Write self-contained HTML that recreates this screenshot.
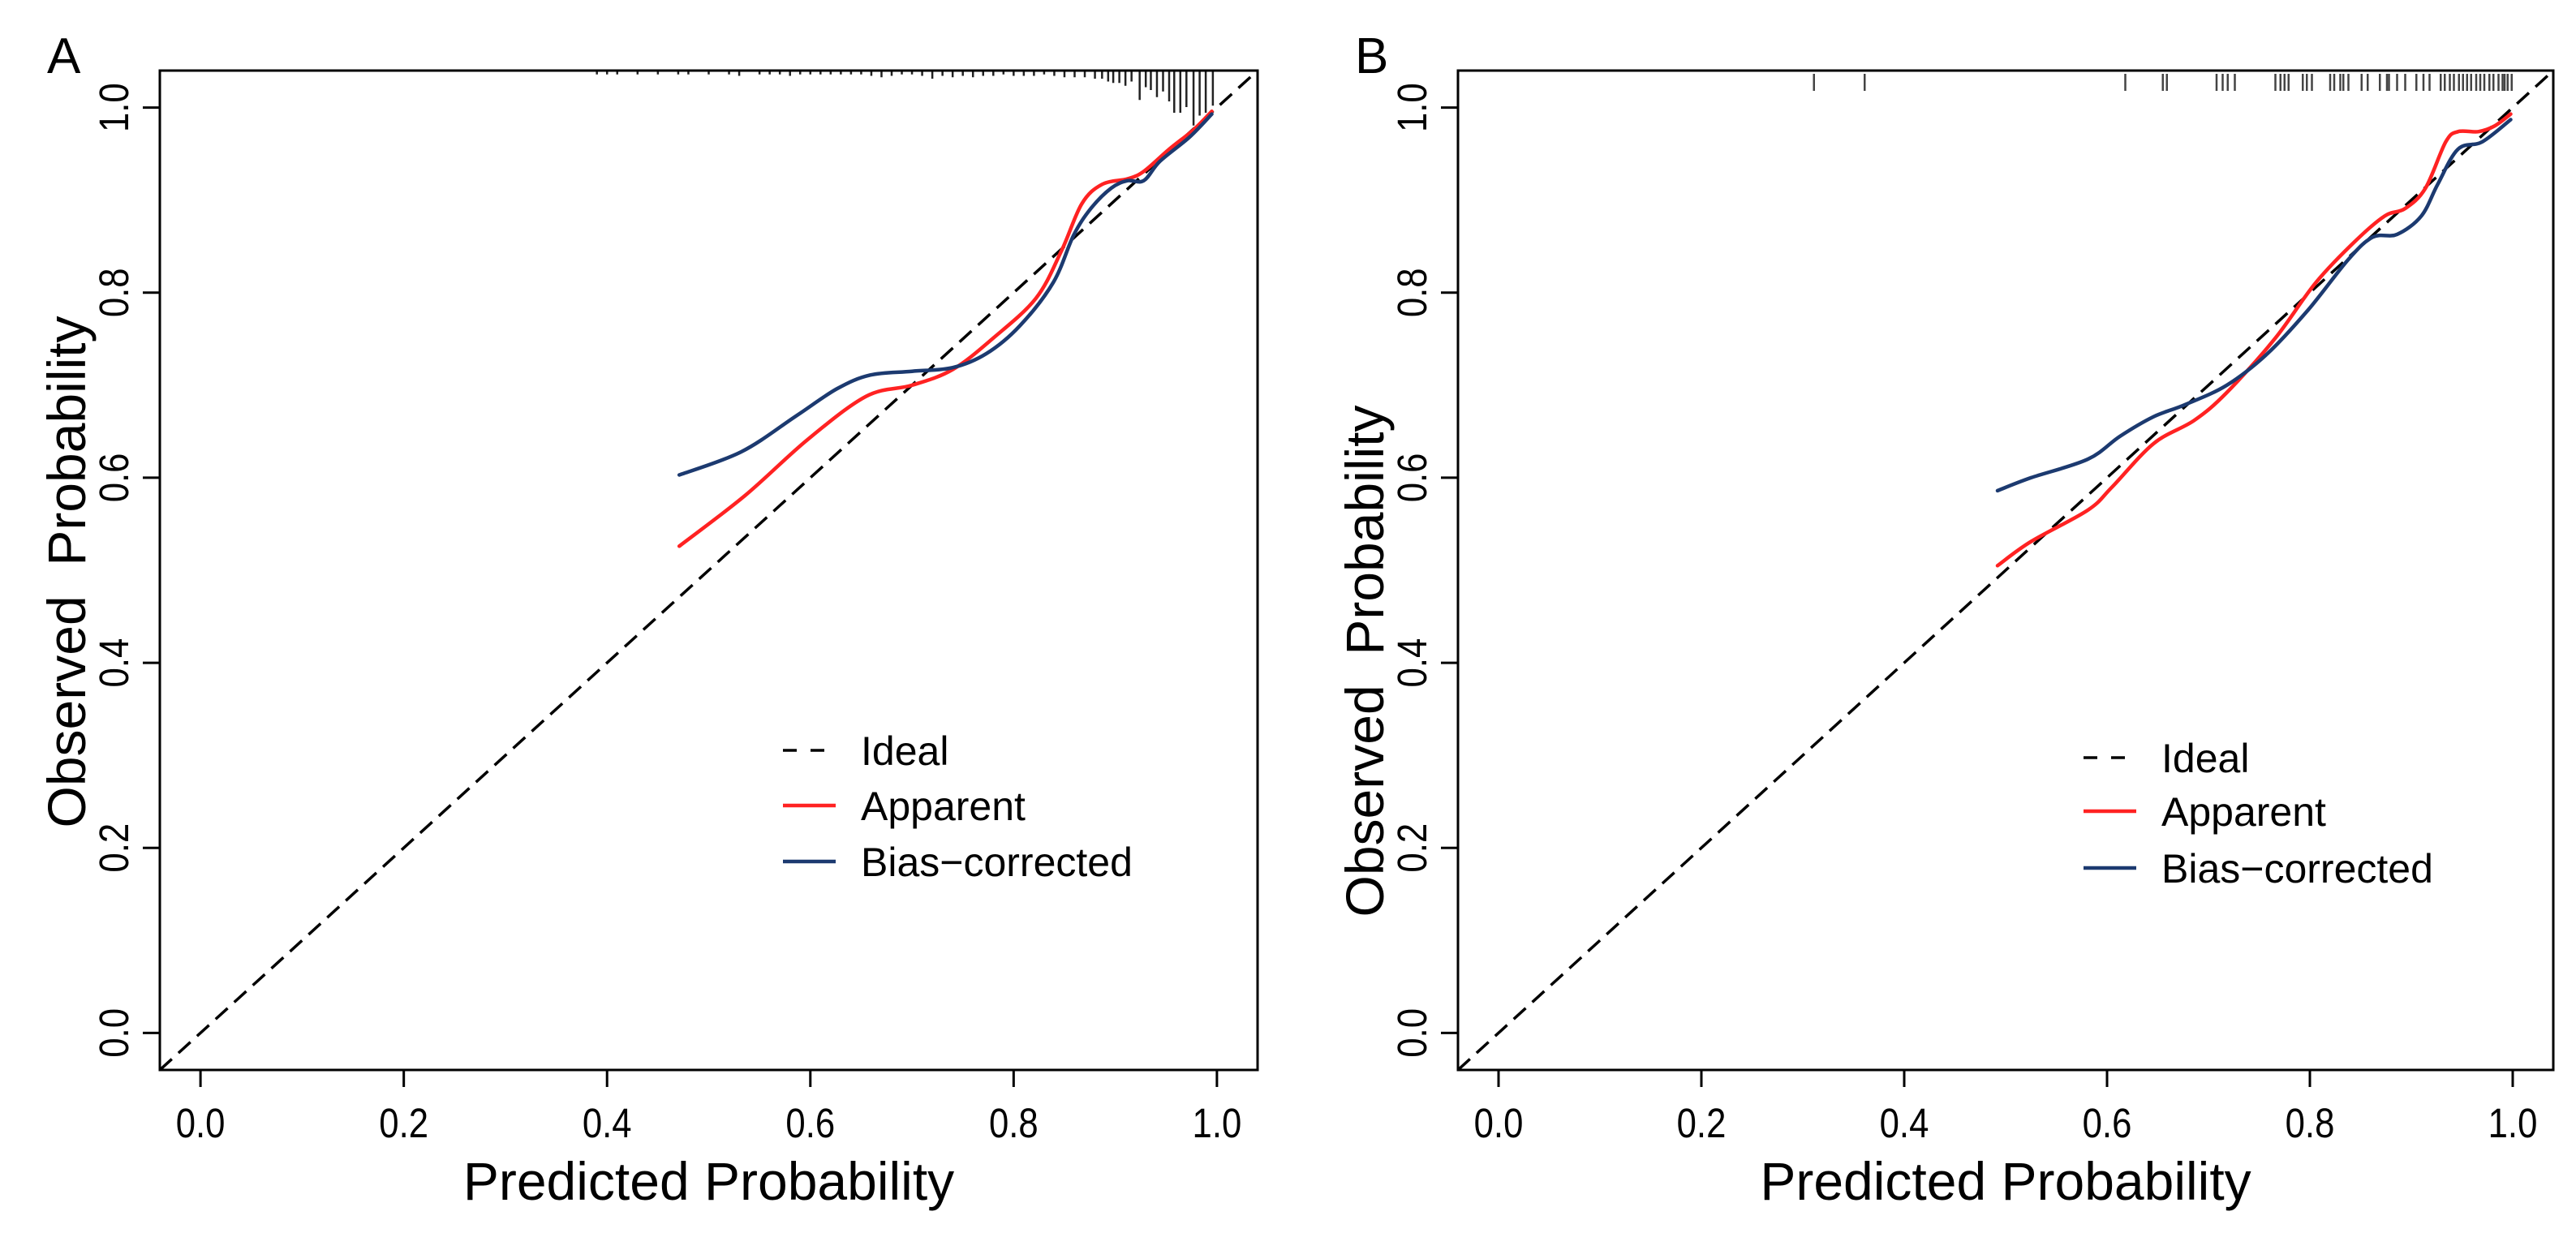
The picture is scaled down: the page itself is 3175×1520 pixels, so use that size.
<!DOCTYPE html>
<html><head><meta charset="utf-8"><style>
html,body{margin:0;padding:0;background:#fff;}
svg{display:block;font-family:"Liberation Sans",Arial,sans-serif;}
</style></head><body>
<svg id="fig" width="3175" height="1520" viewBox="0 0 3175 1520" xmlns="http://www.w3.org/2000/svg"></svg>
<script>
// ---- data: panel A ----
const appAx = [0.471,0.536,0.597,0.655,0.700,0.740,0.780,0.822,0.847,0.867,0.887,0.912,0.928,0.953,0.977,0.995];
const appAy = [0.526,0.581,0.641,0.688,0.700,0.717,0.751,0.794,0.845,0.896,0.917,0.923,0.931,0.955,0.976,0.996];
const biaAx = [0.471,0.532,0.585,0.626,0.659,0.700,0.740,0.773,0.806,0.839,0.859,0.876,0.896,0.912,0.928,0.944,0.973,0.995];
const biaAy = [0.603,0.628,0.666,0.696,0.711,0.715,0.719,0.734,0.764,0.811,0.862,0.891,0.913,0.921,0.921,0.942,0.968,0.993];
const rugAx = [0.39,0.40,0.41,0.43,0.45,0.47,0.48,0.50,0.52,0.53,0.55,0.56,0.57,0.58,0.59,0.60,0.61,0.62,0.63,0.64,0.65,0.66,0.67,0.68,0.69,0.70,0.71,0.72,0.73,0.74,0.75,0.76,0.77,0.78,0.79,0.80,0.81,0.82,0.83,0.84,0.85,0.86,0.87,0.88,0.887,0.893,0.898,0.904,0.910,0.916,0.924,0.930,0.935,0.941,0.947,0.953,0.958,0.964,0.970,0.977,0.983,0.989,0.996];
const rugAc = [1,1,1,1,1,1,1,1,1,2,1,1,1,2,1,1,1,1,1,1,1,2,3,2,1,1,2,4,2,3,2,3,2,2,1,2,2,2,1,2,3,3,3,4,4,6,7,7,9,6,19,10,12,17,13,20,28,28,24,37,30,28,23];
// ---- data: panel B ----
const appBx = [0.492,0.525,0.581,0.605,0.646,0.686,0.718,0.766,0.806,0.846,0.874,0.894,0.914,0.934,0.946,0.966,0.982,0.998];
const appBy = [0.505,0.531,0.565,0.590,0.637,0.662,0.692,0.751,0.811,0.857,0.883,0.891,0.913,0.963,0.974,0.974,0.980,0.993];
const biaBx = [0.492,0.525,0.581,0.613,0.646,0.677,0.718,0.758,0.798,0.838,0.862,0.886,0.910,0.926,0.946,0.970,0.998];
const biaBy = [0.586,0.600,0.620,0.645,0.666,0.679,0.700,0.734,0.781,0.836,0.860,0.863,0.883,0.917,0.955,0.963,0.987];
const rugBx = [0.311,0.361,0.618,0.655,0.659,0.708,0.714,0.719,0.726,0.766,0.771,0.775,0.779,0.793,0.797,0.802,0.820,0.824,0.830,0.833,0.838,0.851,0.857,0.869,0.876,0.878,0.886,0.894,0.905,0.912,0.918,0.929,0.933,0.938,0.942,0.947,0.951,0.955,0.959,0.964,0.968,0.972,0.977,0.981,0.986,0.990,0.992,0.995,0.999];
const tickVals = [0.0,0.2,0.4,0.6,0.8,1.0];
const tickLabels = ["0.0","0.2","0.4","0.6","0.8","1.0"];
const legendLabels = ["Ideal","Apparent","Bias\u2212corrected"];

const NS = "http://www.w3.org/2000/svg";
const svg = document.getElementById('fig');
function mk(tag, attrs, parent){
  const e = document.createElementNS(NS, tag);
  for (const k in attrs) e.setAttribute(k, attrs[k]);
  (parent||svg).appendChild(e);
  return e;
}
function smoothPath(pts){
  let d='M'+pts[0][0].toFixed(1)+' '+pts[0][1].toFixed(1);
  for(let i=0;i<pts.length-1;i++){
    const p0=pts[i-1]||pts[i], p1=pts[i], p2=pts[i+1], p3=pts[i+2]||p2;
    const c1=[p1[0]+(p2[0]-p0[0])/6, p1[1]+(p2[1]-p0[1])/6];
    const c2=[p2[0]-(p3[0]-p1[0])/6, p2[1]-(p3[1]-p1[1])/6];
    d+=' C'+c1[0].toFixed(1)+' '+c1[1].toFixed(1)+' '+c2[0].toFixed(1)+' '+c2[1].toFixed(1)+' '+p2[0].toFixed(1)+' '+p2[1].toFixed(1);
  }
  return d;
}
function panel(P){
  const g = mk('g',{});
  
  
  const L=P.left, R=P.right, T=87, B=1319;
  const ux=(R-L)/1.08, uy=(B-T)/1.08;
  const sx=v=>L+(v+0.04)*ux, sy=v=>B-(v+0.04)*uy;
  const clipId='clip'+P.id;
  const cp=mk('clipPath',{id:clipId},g); mk('rect',{x:L,y:T,width:R-L,height:B-T},cp);
  const lt=mk('text',{x:P.letterX,y:90,'font-size':62},g); lt.textContent=P.id;
   
  const dg=mk('line',{x1:sx(-0.04),y1:sy(-0.04),x2:sx(1.04),y2:sy(1.04),stroke:'#000','stroke-width':3.5,'stroke-dasharray':'20 11','clip-path':'url(#'+clipId+')'},g);
   
  const rg=mk('g',{'clip-path':'url(#'+clipId+')'},g);
   
  P.rugX.forEach((v,i)=>{
    const x=sx(v);
    if(P.rugC){ const h=3+P.rugC[i]*1.75;
      const t=mk('line',{x1:x,y1:T,x2:x,y2:T+h,stroke:'#222','stroke-width':2.5},rg);
       
    } else {
      const t=mk('line',{x1:x,y1:T+4,x2:x,y2:T+25,stroke:'#444','stroke-width':2.5},rg);
       
    }
  });
  function curve(xs,ys,col,name){
    const pts=xs.map((v,i)=>[sx(v),sy(ys[i])]);
    const p=mk('path',{d:smoothPath(pts),fill:'none',stroke:col,'stroke-width':4.5,'stroke-linejoin':'round','stroke-linecap':'round'},g);
     
  }
  curve(P.ax,P.ay,'#ff2222','apparent-curve');
  curve(P.bx,P.by,'#1c3a70','bias-corrected-curve');
  const bx=mk('rect',{x:L,y:T,width:R-L,height:B-T,fill:'none',stroke:'#000','stroke-width':3},g);
   
  tickVals.forEach((v,i)=>{
    const x=sx(v);
    const tk=mk('line',{x1:x,y1:B,x2:x,y2:B+21,stroke:'#000','stroke-width':3},g);
     
    const t=mk('text',{x:0,y:0,'font-size':46,'text-anchor':'middle',transform:'translate('+x+',1402) scale(0.95,1.1)'},g); t.textContent=tickLabels[i];
     
    const y=sy(v);
    const tk2=mk('line',{x1:L,y1:y,x2:L-21,y2:y,stroke:'#000','stroke-width':3},g);
     
    const t2=mk('text',{x:0,y:0,'font-size':46,'text-anchor':'middle',transform:'translate('+(L-39)+','+y+') rotate(-90) scale(0.95,1.1)'},g); t2.textContent=tickLabels[i];
     
  });
  const xt=mk('text',{x:(L+R)/2,y:1479,'font-size':66,'text-anchor':'middle'},g); xt.textContent='Predicted Probability';
   
  const yt=mk('text',{x:0,y:0,'font-size':66,'text-anchor':'middle','xml:space':'preserve',transform:'translate('+(L-92)+','+P.ytY+') rotate(-90)'},g);
  yt.textContent='Observed\u00a0\u00a0Probability';
   
  const lg=mk('g',{},g);
   
  const cols=['#000','#ff2222','#1c3a70'];
  legendLabels.forEach((s,i)=>{
    const y=P.legY[i];
    const ln=mk('line',{x1:P.legX,y1:y,x2:P.legX+65,y2:y,stroke:cols[i],'stroke-width':i?4.5:3.5,'stroke-dasharray':i?'none':'17 17'},lg);
     
    const t=mk('text',{x:P.legX+96,y:y+18,'font-size':50},lg); t.textContent=s;
     
  });
}
panel({id:'A',left:197,right:1550,letterX:58,ax:appAx,ay:appAy,bx:biaAx,by:biaAy,rugX:rugAx,rugC:rugAc,ytY:705,legX:965,legY:[925,993,1062]});
panel({id:'B',left:1797,right:3147,letterX:1670,ax:appBx,ay:appBy,bx:biaBx,by:biaBy,rugX:rugBx,rugC:null,ytY:815,legX:2568,legY:[934,1000,1070]});
</script>
</body></html>
